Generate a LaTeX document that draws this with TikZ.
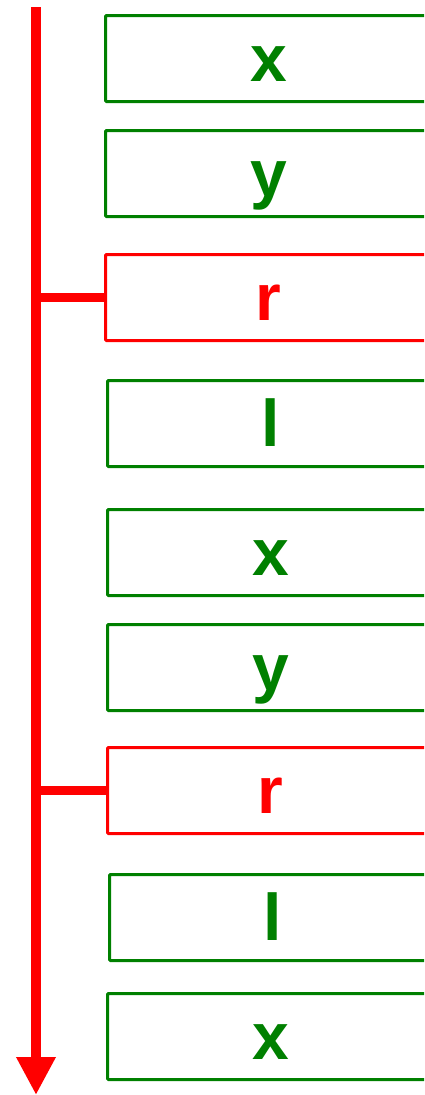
\documentclass[tikz,border=0pt]{standalone}
\usepackage{fontspec}
\setmainfont{Liberation Sans}
\usepackage{xcolor}
\usetikzlibrary{arrows.meta,positioning}

\begin{document}
\begin{tikzpicture}[
  x=1pt, y=-1pt,
  font=\fontsize{66}{66}\selectfont\bfseries,
  cell/.style ={draw=green!50!black, text=green!50!black, line width=3pt, rounded corners=1pt,
                anchor=north west, inner sep=0pt, minimum width=326pt, minimum height=86pt,
                text height=46pt, text depth=0pt},
  hit/.style  ={cell, draw=red, text=red},
  axis/.style ={red, line width=10pt, -{Triangle[length=38pt,width=37pt]}},
  link/.style ={red, line width=9pt}
]
\clip (0,0) rectangle (424,1095);
\foreach \name/\txt/\kind/\lft/\tp in {x1/x/cell/104/14, y1/y/cell/104/129, r1/r/hit/104/253,
    l1/l/cell/106/379, x2/x/cell/106/508, y2/y/cell/106/623, r2/r/hit/106/746,
    l2/l/cell/108/873, x3/x/cell/106/992}
  \node[\kind] (\name) at (\lft,\tp) {\txt};
\coordinate (start) at (36,7);
\coordinate (stop) at (36,1095);
\draw[axis] (start) -- (stop);
\draw[link] (r1.west -| start) -- (r1.west);
\draw[link] (r2.west -| start) -- (r2.west);
\end{tikzpicture}
\end{document}
